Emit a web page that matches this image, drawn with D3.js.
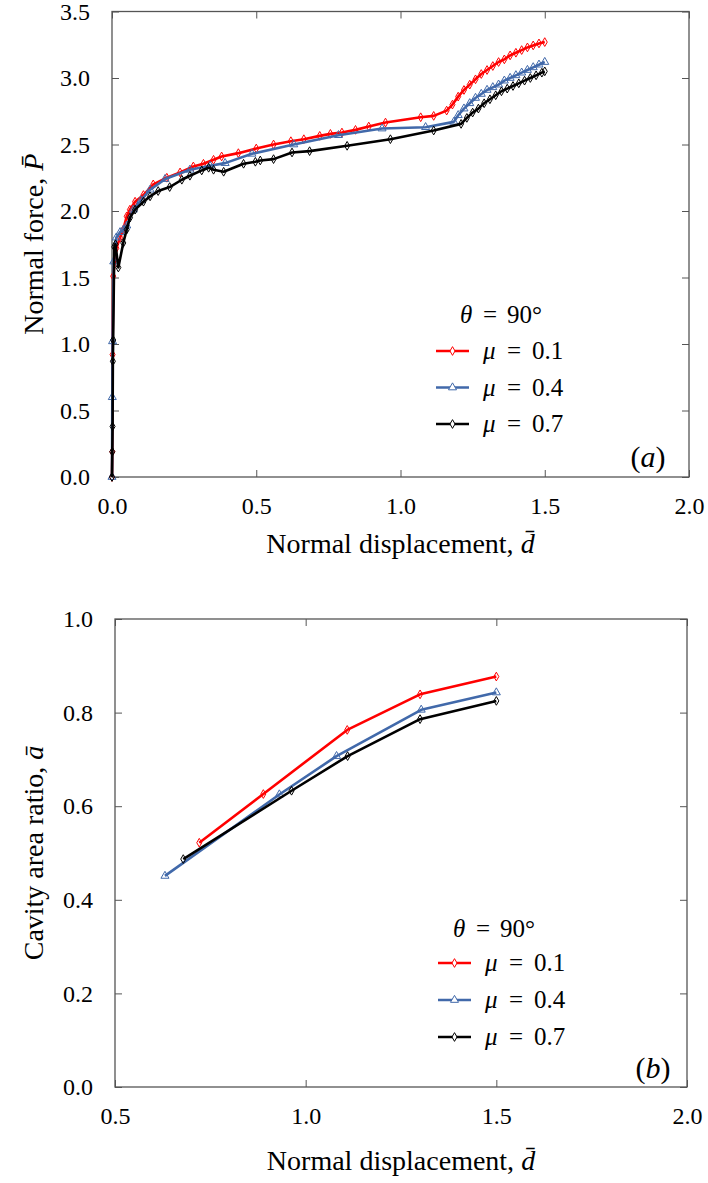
<!DOCTYPE html>
<html lang="en">
  <head>
    <meta charset="UTF-8" />
    <title>Normal force and cavity area ratio vs normal displacement</title>
    <style>
      body {
        margin: 0;
        background: #fff;
      }
      svg,
      svg text,
      .axis text {
        font-family: "Liberation Serif", Tinos, "Times New Roman", Times, "DejaVu Serif", serif;
      }
      svg text {
        fill: #000;
      }
      .axis text {
        font-size: 24px;
      }
      .axis-title {
        font-size: 28px;
      }
      .legend text {
        font-size: 25px;
      }
      .frame {
        fill: none;
        stroke: #555;
        stroke-width: 1.3px;
      }
    </style>
  </head>
  <body>
    <svg width="708" height="1183" font-family="Liberation Serif, serif"></svg>

    <script src="https://d3js.org/d3.v7.min.js"></script>
    <script>
      // (a) normal force P vs normal displacement d, theta = 90 deg
      const forceMu01 = [
        [0, 0], [0.001, 0.19], [0.002, 0.92], [0.004, 1.51], [0.015, 1.72],
        [0.028, 1.8], [0.039, 1.86], [0.051, 1.96], [0.062, 2.01], [0.08, 2.07],
        [0.109, 2.12], [0.143, 2.2], [0.19, 2.25], [0.236, 2.29], [0.282, 2.335],
        [0.317, 2.355], [0.352, 2.385], [0.38, 2.41], [0.438, 2.435], [0.5, 2.47],
        [0.56, 2.5], [0.62, 2.525], [0.665, 2.54], [0.72, 2.565], [0.757, 2.58],
        [0.797, 2.59], [0.844, 2.61], [0.89, 2.635], [0.948, 2.665], [1.07, 2.705],
        [1.115, 2.715], [1.16, 2.755], [1.18, 2.8], [1.2, 2.86], [1.22, 2.91],
        [1.24, 2.95], [1.26, 2.99], [1.28, 3.03], [1.3, 3.06], [1.32, 3.09],
        [1.34, 3.12], [1.36, 3.14], [1.38, 3.17], [1.4, 3.19], [1.42, 3.21],
        [1.44, 3.23], [1.46, 3.245], [1.48, 3.26], [1.5, 3.27]
      ];
      const forceMu04 = [
        [0, 0], [0.001, 0.6], [0.002, 1.02], [0.006, 1.62], [0.015, 1.8],
        [0.028, 1.84], [0.04, 1.86], [0.051, 1.89], [0.074, 2.01], [0.1, 2.08],
        [0.132, 2.16], [0.184, 2.24], [0.27, 2.31], [0.34, 2.34], [0.392, 2.36],
        [0.485, 2.43], [0.63, 2.5], [0.785, 2.57], [0.936, 2.62], [1.087, 2.63],
        [1.185, 2.67], [1.2, 2.72], [1.22, 2.77], [1.24, 2.81], [1.26, 2.85],
        [1.28, 2.88], [1.3, 2.91], [1.32, 2.93], [1.34, 2.95], [1.36, 2.98],
        [1.38, 3.0], [1.4, 3.02], [1.42, 3.04], [1.44, 3.06], [1.46, 3.08],
        [1.48, 3.1], [1.5, 3.12]
      ];
      const forceMu07 = [
        [0, 0], [0.001, 0.19], [0.002, 0.38], [0.003, 0.87], [0.004, 1.03],
        [0.008, 1.73], [0.012, 1.75], [0.022, 1.575], [0.039, 1.76], [0.051, 1.86],
        [0.0625, 1.95], [0.08, 2.01], [0.109, 2.07], [0.132, 2.11], [0.16, 2.15],
        [0.2, 2.18], [0.242, 2.235], [0.27, 2.265], [0.311, 2.305], [0.335, 2.325],
        [0.352, 2.31], [0.387, 2.295], [0.456, 2.355], [0.497, 2.37], [0.514, 2.38],
        [0.56, 2.39], [0.624, 2.44], [0.685, 2.45], [0.815, 2.49], [0.965, 2.54],
        [1.115, 2.605], [1.21, 2.655], [1.23, 2.7], [1.25, 2.74], [1.27, 2.77],
        [1.29, 2.81], [1.31, 2.84], [1.33, 2.87], [1.35, 2.9], [1.37, 2.92],
        [1.39, 2.94], [1.41, 2.96], [1.43, 2.98], [1.45, 3.0], [1.47, 3.02],
        [1.49, 3.04], [1.5, 3.05]
      ];

      // (b) cavity area ratio a vs normal displacement d
      const cavityMu01 = [[0.721, 0.522], [0.889, 0.626], [1.109, 0.763], [1.3, 0.839], [1.5, 0.877]];
      const cavityMu04 = [[0.631, 0.451], [0.931, 0.625], [1.081, 0.707], [1.303, 0.806], [1.5, 0.843]];
      const cavityMu07 = [[0.679, 0.487], [0.963, 0.633], [1.11, 0.707], [1.3, 0.786], [1.5, 0.825]];

      const muLabels = ["0.1", "0.4", "0.7"];
      const seriesColors = ["#ff0000", "#4169aa", "#000000"];
      const seriesSymbols = [d3.symbolDiamond, d3.symbolTriangle, d3.symbolDiamond];
      const symbolSizes = [22, 28, 22];

      const forceTicksX = [0, 0.5, 1, 1.5, 2];
      const forceTicksY = [0, 0.5, 1, 1.5, 2, 2.5, 3, 3.5];
      const cavityTicksX = [0.5, 1, 1.5, 2];
      const cavityTicksY = [0, 0.2, 0.4, 0.6, 0.8, 1];

      const svg = d3.select("svg");
      const fmt = d3.format(".1f");
      const serif = "Liberation Serif, Tinos, Times New Roman, DejaVu Serif, serif";

      function drawPanel(p) {
        const x = d3.scaleLinear().domain(p.xDomain).range([p.left, p.right]);
        const y = d3.scaleLinear().domain(p.yDomain).range([p.bottom, p.top]);
        const g = svg.append("g");

        // axes with inward ticks on all four sides
        const tick = 7;
        g.append("g")
          .attr("class", "axis")
          .attr("transform", `translate(0,${p.bottom})`)
          .call(d3.axisBottom(x).tickValues(p.xTicks).tickFormat(fmt).tickSizeInner(-tick).tickSizeOuter(0).tickPadding(20));
        g.append("g")
          .attr("class", "axis")
          .attr("transform", `translate(${p.left},0)`)
          .call(d3.axisLeft(y).tickValues(p.yTicks).tickFormat(fmt).tickSizeInner(-tick).tickSizeOuter(0).tickPadding(22));
        g.append("g")
          .attr("class", "axis")
          .attr("transform", `translate(0,${p.top})`)
          .call(d3.axisTop(x).tickValues(p.xTicks).tickFormat("").tickSizeInner(-tick).tickSizeOuter(0));
        g.append("g")
          .attr("class", "axis")
          .attr("transform", `translate(${p.right},0)`)
          .call(d3.axisRight(y).tickValues(p.yTicks).tickFormat("").tickSizeInner(-tick).tickSizeOuter(0));
        g.selectAll(".axis").attr("color", "#555").attr("font-family", serif).attr("font-size", 24);
        g.selectAll(".axis text").attr("fill", "#000");
        g.selectAll(".axis .domain").remove();

        g.append("rect")
          .attr("class", "frame")
          .attr("x", p.left)
          .attr("y", p.top)
          .attr("width", p.right - p.left)
          .attr("height", p.bottom - p.top);

        // series: line then open markers
        const line = d3.line().x((d) => x(d[0])).y((d) => y(d[1]));
        p.series.forEach((s, i) => {
          g.append("path")
            .datum(s)
            .attr("d", line)
            .attr("fill", "none")
            .attr("stroke", seriesColors[i])
            .attr("stroke-width", 2.6)
            .attr("stroke-linejoin", "round");
          g.append("g")
            .selectAll("path")
            .data(s)
            .join("path")
            .attr("transform", (d) => `translate(${x(d[0])},${y(d[1])})`)
            .attr("d", d3.symbol(seriesSymbols[i], symbolSizes[i]))
            .attr("fill", "none")
            .attr("stroke", seriesColors[i])
            .attr("stroke-width", 1);
        });

        // axis titles
        const xt = g.append("text")
          .attr("class", "axis-title")
          .attr("font-family", serif)
          .attr("x", (p.left + p.right) / 2)
          .attr("y", p.xTitleY)
          .attr("text-anchor", "middle")
          .text("Normal displacement, ");
        xt.append("tspan").attr("font-style", "italic").text("d\u0304");

        const yt = g.append("text")
          .attr("class", "axis-title")
          .attr("font-family", serif)
          .attr("transform", `translate(${p.yTitleX},${(p.top + p.bottom) / 2}) rotate(-90)`)
          .attr("text-anchor", "middle")
          .text(p.yTitle);
        yt.append("tspan").attr("font-style", "italic").text(p.ySymbol);

        // legend
        const lg = g.append("g").attr("class", "legend").attr("font-family", serif);
        const t = lg.append("text").attr("y", p.legend.thetaY + 8);
        t.append("tspan").attr("x", p.legend.x + p.legend.thetaDx).attr("font-style", "italic").text("\u03b8");
        t.append("tspan").attr("x", p.legend.x + p.legend.thetaDx + 23).text("=");
        t.append("tspan").attr("x", p.legend.x + p.legend.thetaDx + 47).text("90°");

        muLabels.forEach((m, i) => {
          const ly = p.legend.rowY + i * p.legend.step;
          lg.append("line")
            .attr("x1", p.legend.x)
            .attr("x2", p.legend.x + 33)
            .attr("y1", ly)
            .attr("y2", ly)
            .attr("stroke", seriesColors[i])
            .attr("stroke-width", 2.6);
          lg.append("path")
            .attr("transform", `translate(${p.legend.x + 16.5},${ly})`)
            .attr("d", d3.symbol(seriesSymbols[i], symbolSizes[i]))
            .attr("fill", "#fff")
            .attr("stroke", seriesColors[i])
            .attr("stroke-width", 1);
          const r = lg.append("text").attr("y", ly + 8);
          r.append("tspan").attr("x", p.legend.x + 47).attr("font-style", "italic").text("\u03bc");
          r.append("tspan").attr("x", p.legend.x + 71).text("=");
          r.append("tspan").attr("x", p.legend.x + 96).text(m);
        });

        const tag = lg.append("text")
          .attr("x", p.tag.x)
          .attr("y", p.tag.y)
          .attr("text-anchor", "middle")
          .style("font-size", "30px");
        tag.append("tspan").text("(");
        tag.append("tspan").attr("font-style", "italic").text(p.tag.label);
        tag.append("tspan").text(")");
      }

      drawPanel({
        left: 112, right: 689, top: 11.5, bottom: 477,
        xDomain: [0, 2], yDomain: [0, 3.5],
        xTicks: forceTicksX, yTicks: forceTicksY,
        series: [forceMu01, forceMu04, forceMu07],
        xTitleY: 553, yTitleX: 43,
        yTitle: "Normal force, ", ySymbol: "P\u0304",
        legend: { x: 436, thetaDx: 24, thetaY: 315, rowY: 351, step: 36.5 },
        tag: { x: 648, y: 467, label: "a" }
      });

      drawPanel({
        left: 115, right: 687, top: 619, bottom: 1087,
        xDomain: [0.5, 2], yDomain: [0, 1],
        xTicks: cavityTicksX, yTicks: cavityTicksY,
        series: [cavityMu01, cavityMu04, cavityMu07],
        xTitleY: 1170, yTitleX: 43,
        yTitle: "Cavity area ratio, ", ySymbol: "\u0101",
        legend: { x: 438, thetaDx: 15, thetaY: 929, rowY: 963, step: 37 },
        tag: { x: 653, y: 1078, label: "b" }
      });
    </script>
  </body>
</html>
